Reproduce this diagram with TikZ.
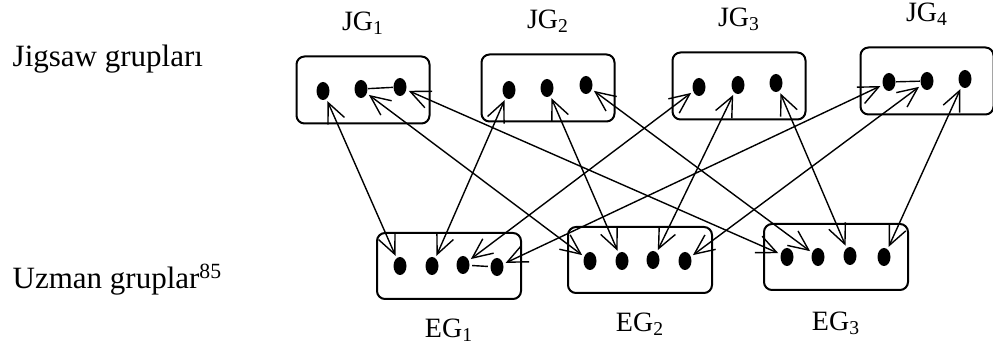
\documentclass[tikz,border=0pt]{standalone}
\usepackage{fontspec}
\setmainfont{Liberation Serif}
\usetikzlibrary{arrows.meta,positioning,shapes.geometric}
\tikzset{>={Straight Barb[length=10pt,width=9pt]},shorten >=1pt,shorten <=1pt}

\begin{document}
\begin{tikzpicture}[x=0.5pt,y=-0.5pt,line width=0.7pt]
                \tikzset{group/.style={draw,rounded corners=4pt,line width=1pt,minimum width=66.5pt,minimum height=33.5pt,inner sep=0pt},
                         expert/.style={group,minimum width=72pt,minimum height=33pt},
                         member/.style={ellipse,fill=black,inner sep=0pt,minimum width=6.5pt,minimum height=9pt},
                         glabel/.style={inner sep=0pt,font=\fontsize{14}{16}\selectfont}}
                \useasboundingbox (0,0) rectangle (993,351);
                % left texts
                \node[anchor=base west,inner sep=0pt,font=\fontsize{15.5}{18}\selectfont] (jtext) at (12,67) {Jigsaw grupları};
                \node[anchor=base west,inner sep=0pt,font=\fontsize{15.5}{18}\selectfont] (utext) at (12,289) {Uzman gruplar\textsuperscript{85}};
                % jigsaw groups
                \node[group] (jg1) at (363,90) {};
                \node[group] (jg2) at (548,88) {};
                \node[group] (jg3) at (739,86) {};
                \node[group] (jg4) at (927,81) {};
                \node[glabel] [above=10pt of jg1] {JG\textsubscript{1}};
                \node[glabel] [above=10pt of jg2] {JG\textsubscript{2}};
                \node[glabel] [above=10pt of jg3] {JG\textsubscript{3}};
                \node[glabel] [above=10pt of jg4] {JG\textsubscript{4}};
                % expert groups
                \node[expert] (eg1) at (449,266) {};
                \node[expert] (eg2) at (640,260) {};
                \node[expert] (eg3) at (836,257) {};
                \node[glabel] [below=9pt of eg1] {EG\textsubscript{1}};
                \node[glabel] [below=9pt of eg2] {EG\textsubscript{2}};
                \node[glabel] [below=10pt of eg3] {EG\textsubscript{3}};
                % members
                \node[member] (j11) at (323,91) {};
                \node[member] (j12) at (361,89) {};
                \node[member] (j13) at (400,87) {};
                \node[member] (j21) at (509,90) {};
                \node[member] (j22) at (547,88) {};
                \node[member] (j23) at (586,85) {};
                \node[member] (j31) at (699,87) {};
                \node[member] (j32) at (738,85) {};
                \node[member] (j33) at (776,83) {};
                \node[member] (j41) at (889,82) {};
                \node[member] (j42) at (927,81) {};
                \node[member] (j43) at (965,79) {};
                \node[member] (e11) at (400,266) {};
                \node[member] (e12) at (432,266) {};
                \node[member] (e13) at (463,265) {};
                \node[member] (e14) at (497,267) {};
                \node[member] (e21) at (590,261) {};
                \node[member] (e22) at (622,261) {};
                \node[member] (e23) at (653,260) {};
                \node[member] (e24) at (685,261) {};
                \node[member] (e31) at (787,257) {};
                \node[member] (e32) at (818,257) {};
                \node[member] (e33) at (850,256) {};
                \node[member] (e34) at (884,257) {};
                \path[<->]
                    (j11) edge (e11)
                    (j12) edge (e21)
                    (j13) edge (e31)
                    (j21) edge (e12)
                    (j22) edge (e22)
                    (j23) edge (e32)
                    (j31) edge (e13)
                    (j32) edge (e23)
                    (j33) edge (e33)
                    (j41) edge (e14)
                    (j42) edge (e24)
                    (j43) edge (e34)
                ;
                \path[draw]
                    (j12) -- (j13)
                    (j41) -- (j42)
                    (e13) -- (e14)
                ;
            \end{tikzpicture}
\end{document}
